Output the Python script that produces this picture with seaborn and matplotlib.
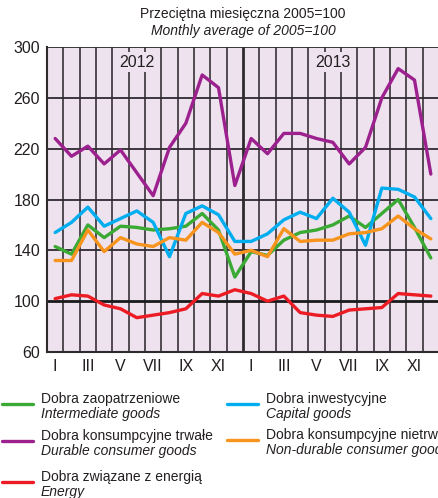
import numpy as np
import pandas as pd
import matplotlib
matplotlib.use("Agg")
import matplotlib.pyplot as plt
from matplotlib.lines import Line2D
import seaborn as sns

months = ["I", "II", "III", "IV", "V", "VI", "VII", "VIII", "IX", "X", "XI", "XII"]
years = ["2012", "2013"]

intermediate = [143, 137, 160, 150, 159, 158, 156, 157, 159, 169, 156, 119,
                139, 136, 148, 154, 156, 160, 167, 158, 169, 180, 158, 134]
durable = [228, 214, 222, 208, 219, 201, 183, 221, 240, 278, 268, 191,
           228, 216, 232, 232, 228, 225, 208, 221, 260, 283, 274, 200]
energy = [102, 105, 104, 97, 94, 87, 89, 91, 94, 106, 104, 109,
          106, 100, 104, 91, 89, 88, 93, 94, 95, 106, 105, 104]
capital = [154, 162, 174, 159, 165, 171, 162, 135, 169, 175, 168, 147,
           147, 153, 164, 170, 165, 181, 170, 144, 189, 188, 182, 165]
nondurable = [132, 132, 156, 139, 150, 145, 143, 150, 148, 162, 154, 137,
              140, 135, 157, 147, 148, 148, 153, 154, 157, 167, 157, 149]

series_pl = ["Dobra zaopatrzeniowe", "Dobra konsumpcyjne trwałe",
             "Dobra związane z energią", "Dobra inwestycyjne",
             "Dobra konsumpcyjne nietrwałe"]
series_en = ["Intermediate goods", "Durable consumer goods", "Energy",
             "Capital goods", "Non-durable consumer goods"]
colors = ["#3aaa35", "#9c218f", "#ed1c24", "#00aeef", "#f7941d"]

values = [intermediate, durable, energy, capital, nondurable]
rows = []
for name, vals in zip(series_pl, values):
    for i, v in enumerate(vals):
        rows.append({"t": i, "series": name, "value": v})
df = pd.DataFrame(rows)

sns.set_style("white")
plt.rcParams["font.family"] = ["Liberation Sans", "DejaVu Sans"]

fig = plt.figure(figsize=(4.39, 4.98), dpi=100)
ax = fig.add_axes([47 / 439, 1 - 352 / 498, 392 / 439, 305 / 498])
ax.set_facecolor("#ede2ee")

sns.lineplot(data=df, x="t", y="value", hue="series", hue_order=series_pl,
             palette=colors, linewidth=2.4, ax=ax, legend=False, zorder=5)

ax.set_xlim(-0.5, 23.5)
ax.set_ylim(60, 300)
for xv in np.arange(0.5, 23, 1):
    lw = 2.0 if xv == 11.5 else 1.3
    ax.axvline(xv, color="#2e2a2e" if xv == 11.5 else "#454045", lw=lw, zorder=1)
for yv in [140, 180, 220, 260, 300]:
    ax.axhline(yv, color="#2e2a2e", lw=1.3, zorder=1)
ax.axhline(100, color="#1a1a1a", lw=2.0, zorder=1)

ax.set_yticks([60, 100, 140, 180, 220, 260, 300])
ax.set_yticklabels(["60", "100", "140", "180", "220", "260", "300"], fontsize=11.5)
tick_pos = list(range(0, 24, 2))
ax.set_xticks(tick_pos)
ax.set_xticklabels([months[i % 12] for i in tick_pos], fontsize=11.5)
ax.tick_params(length=0, pad=5, colors="#231f20")
ax.set_xlabel("")
ax.set_ylabel("")
for s in ["left", "bottom"]:
    ax.spines[s].set_color("#2e2a2e")
    ax.spines[s].set_linewidth(1.5)
for s in ["top", "right"]:
    ax.spines[s].set_visible(False)

for k, yr in enumerate(years):
    ax.text(5 + 12 * k, 288, yr, ha="center", va="center", fontsize=11.5,
            color="#231f20", zorder=6,
            bbox=dict(boxstyle="square,pad=0.15", fc="#ede2ee", ec="none"))

fig.text(243 / 439, 1 - 14 / 498, "Przeciętna miesięczna 2005=100",
         ha="center", va="center", fontsize=10, color="#231f20")
fig.text(243 / 439, 1 - 31 / 498, "Monthly average of 2005=100",
         ha="center", va="center", fontsize=10, style="italic", color="#231f20")

# legend
leg_pos = [(2, 404), (2, 441), (2, 482), (227, 404), (227, 440)]
for (lx, ly), c, pl, en in zip(leg_pos, colors, series_pl, series_en):
    fig.add_artist(Line2D([lx / 439, (lx + 31) / 439], [1 - ly / 498, 1 - ly / 498],
                          color=c, lw=2.4, transform=fig.transFigure))
    fig.text((lx + 39) / 439, 1 - (ly - 5) / 498, pl, ha="left", va="center",
             fontsize=10, color="#231f20")
    fig.text((lx + 39) / 439, 1 - (ly + 10) / 498, en, ha="left", va="center",
             fontsize=10, style="italic", color="#231f20")

fig.savefig("out.png", dpi=100)
